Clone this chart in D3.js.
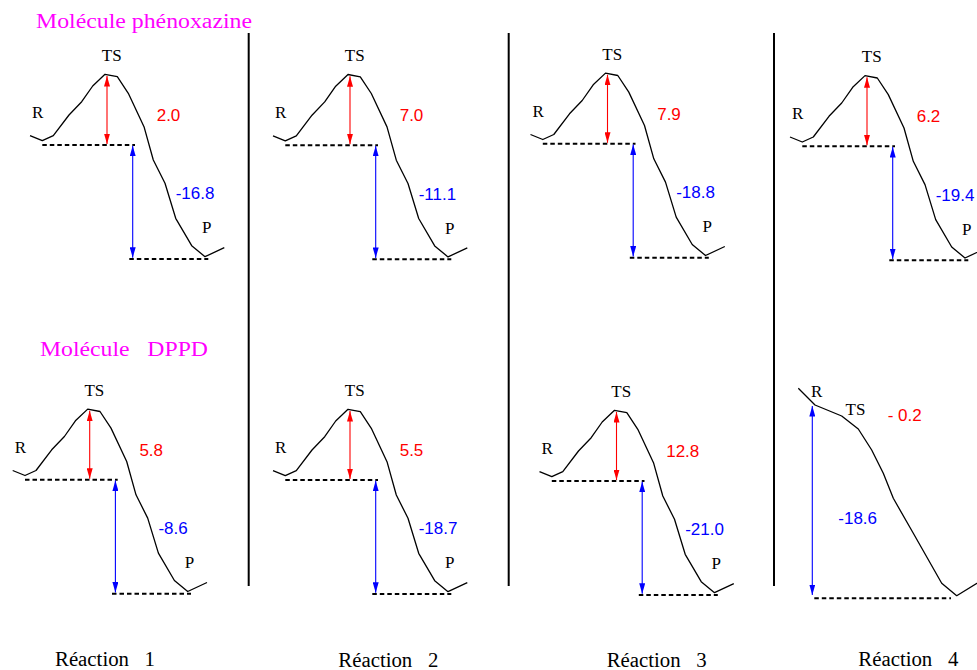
<!DOCTYPE html>
<html><head><meta charset="utf-8">
<script src="https://cdn.jsdelivr.net/npm/d3@7"></script>
<style>html,body{margin:0;padding:0;background:#fff;overflow:hidden}</style>
</head><body><svg id="c" width="977" height="670"></svg>
<script>
// ---------- data ----------
const molecules = ["Molécule phénoxazine", "Molécule   DPPD"];
const reactions = ["Réaction   1", "Réaction   2", "Réaction   3", "Réaction   4"];
const barriers = [[2.0, 7.0, 7.9, 6.2], [5.8, 5.5, 12.8, -0.2]];
const reactionEnergies = [[-16.8, -11.1, -18.8, -19.4], [-8.6, -18.7, -21.0, -18.6]];
// schematic profile (reaction coordinate, relative energy) used for all panels with a barrier
const profileCoord  = [0, 12.3, 23.3, 39, 51.7, 62.7, 75, 87.3, 98.3, 114, 123.3, 135, 145.7, 161.7, 175, 194.3];
const profileEnergy = [9.3, 4.3, 9.3, 30, 43.3, 59, 70.7, 68.3, 51.7, 18.3, -15, -38.3, -73.3, -100.7, -111.7, -102.7];
// schematic barrierless profile (DPPD, reaction 4)
const flatCoord  = [0, 16.7, 43.4, 60, 73.4, 85, 95, 115, 143.4, 158.4, 185];
const flatEnergy = [16.7, 0, -11, -24, -45, -68.3, -93.3, -128.3, -178.3, -190.7, -174.5];
const levels = {R: 0, TS: 69, P: -114}; // schematic levels of the profile
const flatLevels = {R: 0, P: -193.3};

// ---------- layout ----------
const W = 977, H = 670;
const svg = d3.select("#c");
const serif = "'Liberation Serif','Times New Roman',serif";
const sans = "'Liberation Sans',Arial,sans-serif";
const panelX = [[30, 273, 530.5, 790], [12.7, 273, 539.5, 798.3]];
const panelY = [[145, 145.2, 143.8, 146.3], [479.8, 480, 481, 405]];

const defs = svg.append("defs");
[["red", "#ff0000"], ["blue", "#0000ff"]].forEach(([id, col]) => {
  defs.append("marker").attr("id", "ah-" + id)
    .attr("markerUnits", "userSpaceOnUse")
    .attr("markerWidth", 11).attr("markerHeight", 6)
    .attr("refX", 10.5).attr("refY", 3)
    .attr("orient", "auto-start-reverse")
    .append("path").attr("d", "M0,0 L10.5,3 L0,6 Z").attr("fill", col);
});

function arrow(g, x, y1, y2, id, col) {
  g.append("line").attr("x1", x).attr("x2", x).attr("y1", y1).attr("y2", y2)
    .attr("stroke", col).attr("stroke-width", 1.1)
    .attr("marker-start", `url(#ah-${id})`).attr("marker-end", `url(#ah-${id})`);
}
function dashed(g, x1, x2, y) {
  g.append("line").attr("x1", x1).attr("x2", x2).attr("y1", y).attr("y2", y)
    .attr("stroke", "#000").attr("stroke-width", 2).attr("stroke-dasharray", "4.5,3");
}
function label(g, txt, x, y, opts) {
  return g.append("text").attr("x", x).attr("y", y).text(txt)
    .attr("font-family", opts.family).attr("font-size", opts.size)
    .attr("fill", opts.fill || "#000").attr("text-anchor", opts.anchor || "start")
    .style("white-space", "pre");
}
const fmtBarrier = v => v < 0 ? "- " + Math.abs(v).toFixed(1) : v.toFixed(1);
const fmtEnergy = v => (v < 0 ? "-" : "") + Math.abs(v).toFixed(1);

// ---------- panels ----------
for (let r = 0; r < 2; r++) {
  for (let c = 0; c < 4; c++) {
    const g = svg.append("g");
    const x0 = panelX[r][c], y0 = panelY[r][c];
    const xs = d3.scaleLinear().domain([0, 200]).range([x0, x0 + 200]);
    const ys = d3.scaleLinear().domain([0, 100]).range([y0, y0 - 100]);
    const line = d3.line().x(d => xs(d[0])).y(d => ys(d[1]));
    const barrierless = (r === 1 && c === 3);
    if (!barrierless) {
      const pts = profileCoord.map((x, i) => [x, profileEnergy[i]]);
      dashed(g, xs(12.3), xs(105), ys(levels.R));
      dashed(g, xs(99.3), xs(178.3), ys(levels.P));
      g.append("path").attr("d", line(pts)).attr("fill", "none")
        .attr("stroke", "#000").attr("stroke-width", 1.3).attr("stroke-linejoin", "round");
      arrow(g, xs(77), ys(levels.TS), ys(levels.R + 1), "red", "#ff0000");
      arrow(g, xs(102.7), ys(levels.R - 0.7), ys(levels.P + 1.3), "blue", "#0000ff");
      label(g, "R", xs(7.7), ys(27.3), {family: serif, size: 17, anchor: "middle"});
      label(g, "TS", xs(81.7), ys(84), {family: serif, size: 17, anchor: "middle"});
      label(g, "P", xs(176.7), ys(-88.3), {family: serif, size: 17, anchor: "middle"});
      label(g, fmtBarrier(barriers[r][c]), xs(126.7), ys(24), {family: sans, size: 17, fill: "#ff0000"});
      label(g, fmtEnergy(reactionEnergies[r][c]), xs(145.7), ys(-54.3), {family: sans, size: 17, fill: "#0000ff"});
    } else {
      const pts = flatCoord.map((x, i) => [x, flatEnergy[i]]);
      dashed(g, xs(16), xs(152.7), ys(flatLevels.P));
      g.append("path").attr("d", line(pts)).attr("fill", "none")
        .attr("stroke", "#000").attr("stroke-width", 1.3).attr("stroke-linejoin", "round");
      arrow(g, xs(14), ys(flatLevels.R - 1), ys(flatLevels.P + 3.3), "blue", "#0000ff");
      label(g, "R", xs(18.4), ys(8.3), {family: serif, size: 17, anchor: "middle"});
      label(g, "TS", xs(57.2), ys(-10), {family: serif, size: 17, anchor: "middle"});
      label(g, fmtBarrier(barriers[r][c]), xs(89.4), ys(-15.7), {family: sans, size: 17, fill: "#ff0000"});
      label(g, fmtEnergy(reactionEnergies[r][c]), xs(40), ys(-119), {family: sans, size: 17, fill: "#0000ff"});
    }
  }
}

// ---------- dividers ----------
[248.7, 508.7, 774].forEach(x => {
  svg.append("line").attr("x1", x).attr("x2", x).attr("y1", 33).attr("y2", 586)
    .attr("stroke", "#000").attr("stroke-width", 2);
});

// ---------- titles ----------
const titlePos = [[36, 28.3, 216, 20], [40, 356, 168, 21]];
molecules.forEach((m, i) => {
  label(svg, m, titlePos[i][0], titlePos[i][1], {family: serif, size: titlePos[i][3], fill: "#ff00ff"})
    .attr("textLength", titlePos[i][2]).attr("lengthAdjust", "spacingAndGlyphs");
});

// ---------- reaction labels ----------
const reacPos = [[55, 666], [338.3, 667], [606.7, 666.5], [858.3, 665.5]];
reactions.forEach((t, i) => {
  label(svg, t, reacPos[i][0], reacPos[i][1], {family: serif, size: 20})
    .attr("textLength", 100).attr("lengthAdjust", "spacingAndGlyphs");
});
</script></body></html>
